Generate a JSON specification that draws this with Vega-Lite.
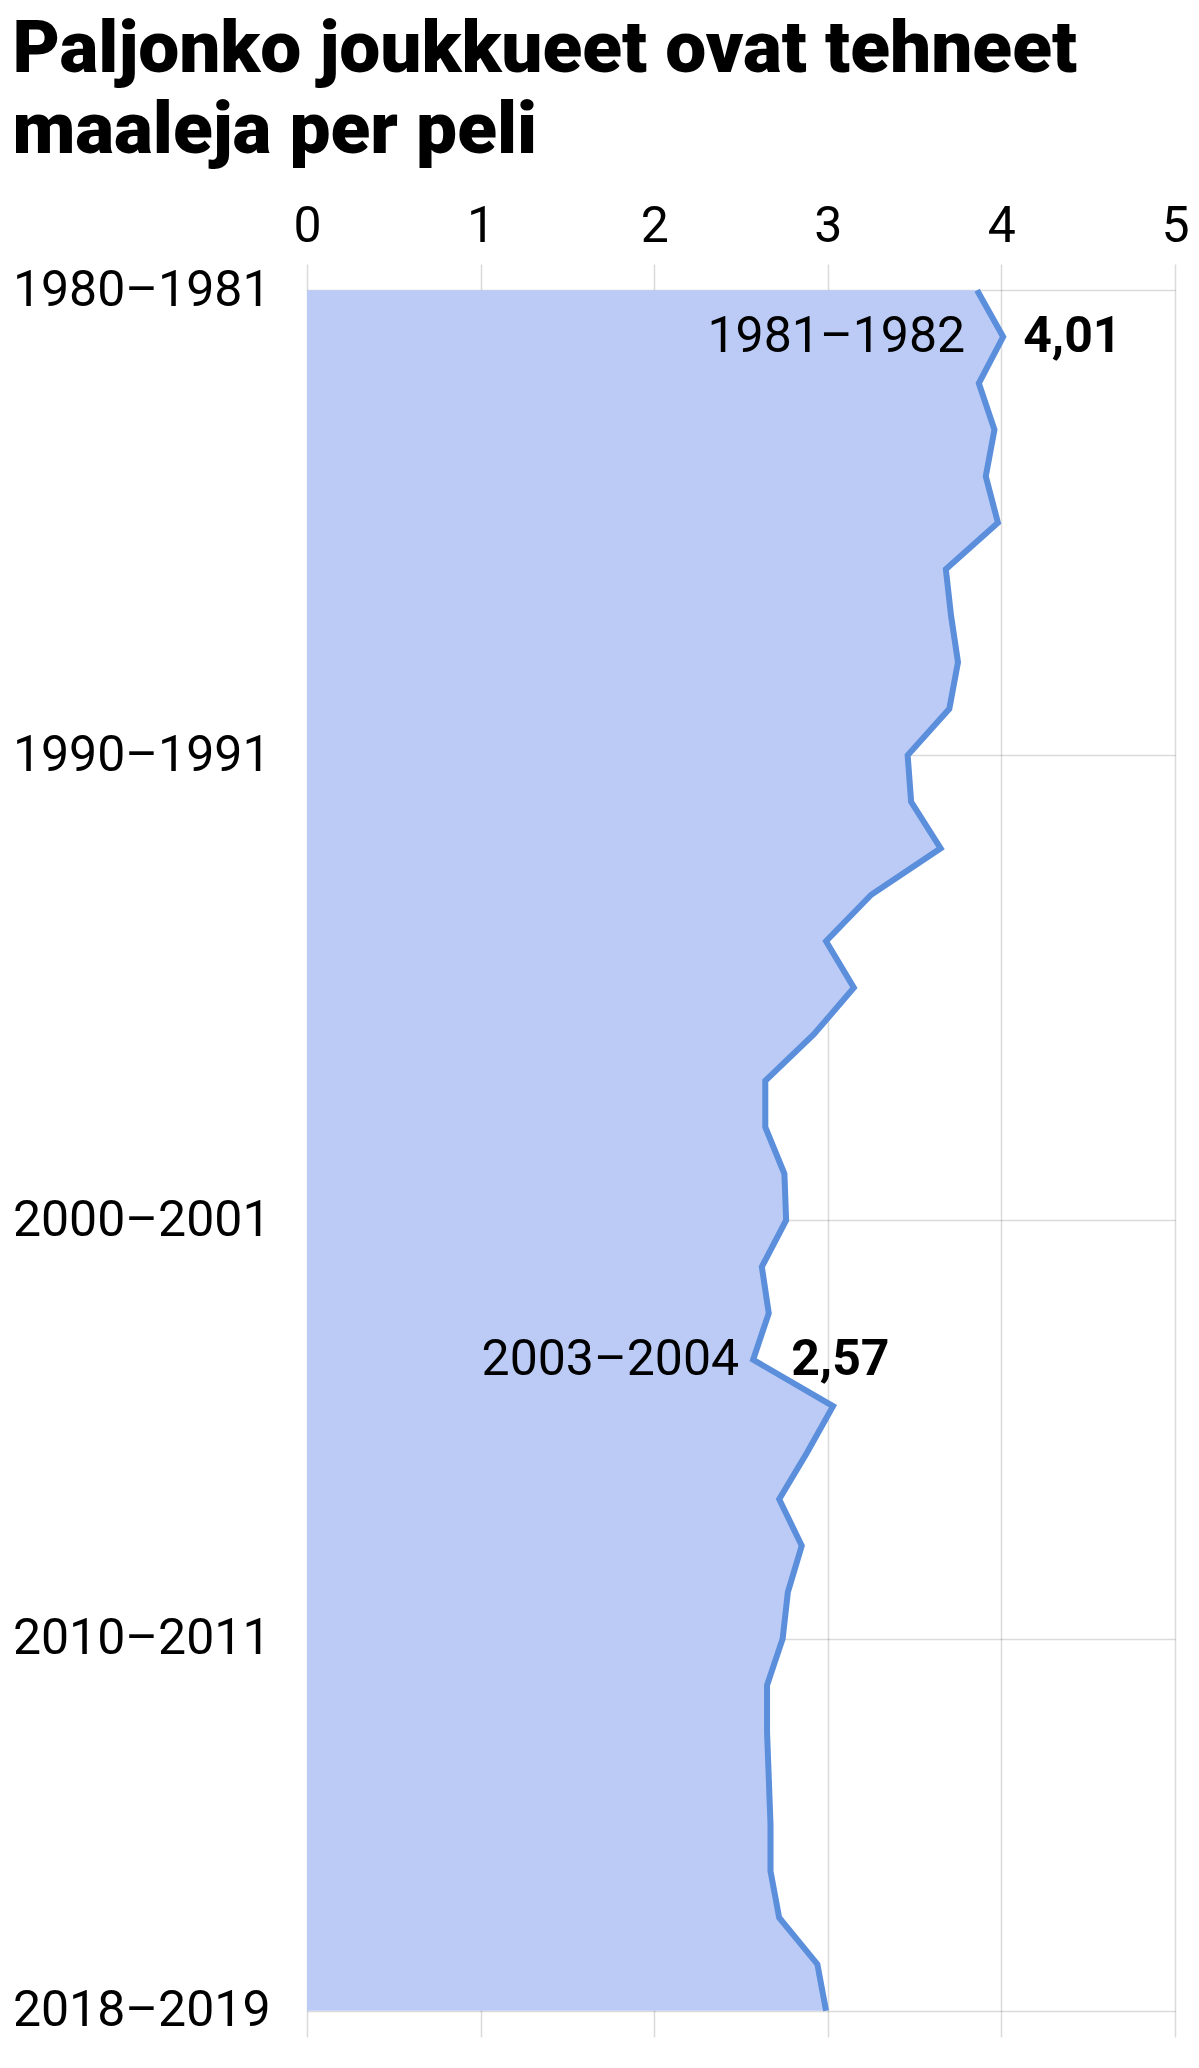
{
  "$schema": "https://vega.github.io/schema/vega-lite/v6.json",
  "width": 868,
  "height": 1773,
  "autosize": {"type": "none"},
  "padding": {"left": 307, "top": 264, "right": 24, "bottom": 31},
  "background": "white",
  "config": {
    "view": {"stroke": null},
    "font": "Roboto",
    "locale": {"number": {"decimal": ",", "thousands": " ", "grouping": [3], "currency": ["", " €"]}},
    "axis": {"labelFont": "Roboto", "labelColor": "#000", "gridColor": "#000", "gridOpacity": 0.14, "gridWidth": 1.5, "zindex": 1, "labelLimit": 0}
  },
  "title": {
    "text": ["Paljonko joukkueet ovat tehneet", "maaleja per peli"],
    "anchor": "start",
    "frame": "bounds",
    "font": "Roboto",
    "fontSize": 73,
    "fontWeight": 900,
    "lineHeight": 81,
    "color": "#000",
    "offset": 33
  },
  "data": {
    "values": [
      {"season": "1980–1981", "value": 3.86},
      {"season": "1981–1982", "value": 4.01},
      {"season": "1982–1983", "value": 3.87},
      {"season": "1983–1984", "value": 3.96},
      {"season": "1984–1985", "value": 3.91},
      {"season": "1985–1986", "value": 3.98},
      {"season": "1986–1987", "value": 3.68},
      {"season": "1987–1988", "value": 3.71},
      {"season": "1988–1989", "value": 3.75},
      {"season": "1989–1990", "value": 3.70},
      {"season": "1990–1991", "value": 3.46},
      {"season": "1991–1992", "value": 3.48},
      {"season": "1992–1993", "value": 3.65},
      {"season": "1993–1994", "value": 3.25},
      {"season": "1994–1995", "value": 2.99},
      {"season": "1995–1996", "value": 3.15},
      {"season": "1996–1997", "value": 2.92},
      {"season": "1997–1998", "value": 2.64},
      {"season": "1998–1999", "value": 2.64},
      {"season": "1999–2000", "value": 2.75},
      {"season": "2000–2001", "value": 2.76},
      {"season": "2001–2002", "value": 2.62},
      {"season": "2002–2003", "value": 2.66},
      {"season": "2003–2004", "value": 2.57},
      {"season": "2005–2006", "value": 3.03},
      {"season": "2006–2007", "value": 2.88},
      {"season": "2007–2008", "value": 2.72},
      {"season": "2008–2009", "value": 2.85},
      {"season": "2009–2010", "value": 2.77},
      {"season": "2010–2011", "value": 2.74},
      {"season": "2011–2012", "value": 2.65},
      {"season": "2012–2013", "value": 2.65},
      {"season": "2013–2014", "value": 2.66},
      {"season": "2014–2015", "value": 2.67},
      {"season": "2015–2016", "value": 2.67},
      {"season": "2016–2017", "value": 2.72},
      {"season": "2017–2018", "value": 2.94},
      {"season": "2018–2019", "value": 2.99}
    ]
  },
  "encoding": {
    "y": {
      "field": "season",
      "type": "ordinal",
      "scale": {"type": "point", "padding": 0.566},
      "axis": {
        "title": null,
        "values": ["1980–1981", "1990–1991", "2000–2001", "2010–2011", "2018–2019"],
        "labelFontSize": 50,
        "labelPadding": 37,
        "labelBaseline": "middle",
        "ticks": false,
        "tickSize": 0,
        "domain": false,
        "grid": true
      }
    },
    "x": {
      "field": "value",
      "type": "quantitative",
      "scale": {"domain": [0, 5], "nice": false},
      "axis": {
        "title": null,
        "orient": "top",
        "values": [0, 1, 2, 3, 4, 5],
        "labelFontSize": 50,
        "labelPadding": 23,
        "labelBaseline": "alphabetic",
        "labelFlush": false,
        "ticks": false,
        "tickSize": 0,
        "domain": false,
        "grid": true
      }
    }
  },
  "layer": [
    {"mark": {"type": "area", "orient": "horizontal", "color": "#bbcbf5", "opacity": 1}},
    {"mark": {"type": "line", "orient": "horizontal", "color": "#5b8edb", "strokeWidth": 6}},
    {
      "transform": [{"filter": "datum.season === '1981–1982'"}],
      "mark": {"type": "text", "align": "right", "baseline": "middle", "dx": -38, "fontSize": 50, "color": "#000"},
      "encoding": {"text": {"field": "season", "type": "nominal"}}
    },
    {
      "transform": [{"filter": "datum.season === '1981–1982'"}],
      "mark": {"type": "text", "align": "left", "baseline": "middle", "dx": 20, "fontSize": 50, "fontWeight": "bold", "color": "#000"},
      "encoding": {"text": {"field": "value", "type": "quantitative", "format": ".2f"}}
    },
    {
      "transform": [{"filter": "datum.season === '2003–2004'"}],
      "mark": {"type": "text", "align": "right", "baseline": "middle", "dx": -14, "fontSize": 50, "color": "#000"},
      "encoding": {"text": {"field": "season", "type": "nominal"}}
    },
    {
      "transform": [{"filter": "datum.season === '2003–2004'"}],
      "mark": {"type": "text", "align": "left", "baseline": "middle", "dx": 38, "fontSize": 50, "fontWeight": "bold", "color": "#000"},
      "encoding": {"text": {"field": "value", "type": "quantitative", "format": ".2f"}}
    }
  ]
}
